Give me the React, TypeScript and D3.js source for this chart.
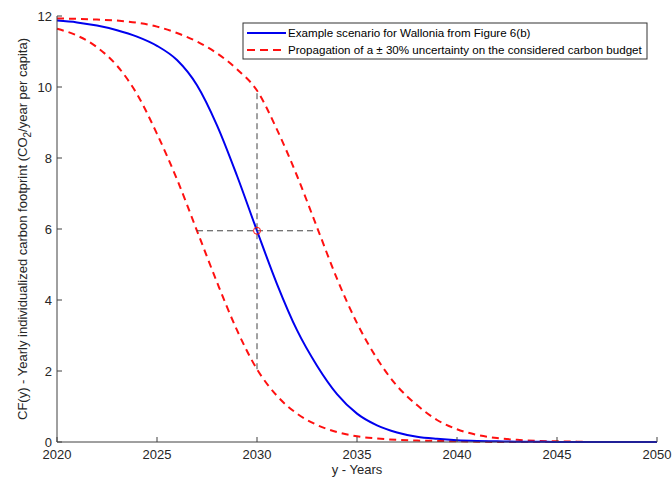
import { scaleLinear, line, curveMonotoneX } from "d3";

const years = [
  2020, 2021, 2022, 2023, 2024, 2025, 2026, 2027, 2028, 2029,
  2030, 2031, 2032, 2033, 2034, 2035, 2036, 2037, 2038, 2039,
  2040, 2041, 2042, 2043, 2044, 2045, 2046, 2047, 2048, 2049, 2050,
];
const scenario = [
  11.87, 11.82, 11.73, 11.6, 11.42, 11.16, 10.76, 10.05, 8.92, 7.5,
  5.95, 4.45, 3.15, 2.15, 1.35, 0.8, 0.47, 0.27, 0.15, 0.09,
  0.05, 0.03, 0.02, 0.01, 0.01, 0, 0, 0, 0, 0, 0,
];
const lowerBound = [
  11.64, 11.45, 11.12, 10.6, 9.8, 8.68, 7.4, 5.95, 4.5, 3.15,
  2.05, 1.3, 0.8, 0.48, 0.28, 0.16, 0.1, 0.06, 0.04, 0.03,
  0.02, 0.01, 0, 0, 0, 0, 0, 0, 0, 0, 0,
];
const upperBound = [
  11.93, 11.92, 11.9, 11.87, 11.81, 11.7, 11.52, 11.28, 10.95, 10.5,
  9.9, 8.8, 7.5, 6.05, 4.6, 3.35, 2.35, 1.58, 1.04, 0.62,
  0.36, 0.2, 0.11, 0.06, 0.03, 0.02, 0.01, 0, 0, 0, 0,
];
const xTicks = [2020, 2025, 2030, 2035, 2040, 2045, 2050];
const yTicks = [0, 2, 4, 6, 8, 10, 12];
// reference point of the example scenario and the +-30% spread
const refYear = 2030;
const refValue = 5.95;
const spreadYears = [2027, 2033];
const legendLabels = [
  "Example scenario for Wallonia from Figure 6(b)",
  "Propagation of a \u00b1 30% uncertainty on the considered carbon budget",
];

const W = 672;
const H = 481;
const margin = { top: 16, right: 15, bottom: 39, left: 57 };
const blue = "#0000ee";
const red = "#ff1010";
const axisColor = "#404040";
const font = "'Liberation Sans', Arial, Helvetica, sans-serif";

export default function App() {
  const x = scaleLinear().domain([2020, 2050]).range([margin.left, W - margin.right]);
  const y = scaleLinear().domain([0, 12]).range([H - margin.bottom, margin.top]);

  const mk = (vals: number[]) =>
    line<number>()
      .x((_, i) => x(years[i]))
      .y((d) => y(d))
      .curve(curveMonotoneX)(vals) || "";

  const x0 = x(2020);
  const x1 = x(2050);
  const yb = y(0);
  const iRef = years.indexOf(refYear);

  const lx = 243;
  const ly = 23;
  const lw = 404;
  const lh = 36;

  return (
    <svg width={W} height={H} style={{ position: "absolute", left: 0, top: 0, background: "#fff" }}>
      {/* curves */}
      <path d={mk(upperBound)} fill="none" stroke={red} strokeWidth={2} strokeDasharray="7,5" />
      <path d={mk(lowerBound)} fill="none" stroke={red} strokeWidth={2} strokeDasharray="7,5" />
      <path d={mk(scenario)} fill="none" stroke={blue} strokeWidth={2} />

      {/* spread guides */}
      <line x1={x(refYear)} x2={x(refYear)} y1={y(lowerBound[iRef])} y2={y(upperBound[iRef])}
        stroke="#444" strokeWidth={1} strokeDasharray="6,4" />
      <line x1={x(spreadYears[0])} x2={x(spreadYears[1])} y1={y(refValue)} y2={y(refValue)}
        stroke="#444" strokeWidth={1} strokeDasharray="6,4" />
      <circle cx={x(refYear)} cy={y(refValue)} r={3.5} fill="none" stroke={red} strokeWidth={1} />

      {/* axes */}
      <line x1={x0} x2={x1} y1={yb} y2={yb} stroke={axisColor} strokeWidth={1} />
      <line x1={x0} x2={x0} y1={yb} y2={y(12)} stroke={axisColor} strokeWidth={1} />
      {xTicks.map((t) => (
        <g key={t}>
          <line x1={x(t)} x2={x(t)} y1={yb} y2={yb - 5} stroke={axisColor} />
          <text x={x(t)} y={yb + 17} textAnchor="middle" fontFamily={font} fontSize={13} fill="#262626">{t}</text>
        </g>
      ))}
      {yTicks.map((t) => (
        <g key={t}>
          <line x1={x0} x2={x0 + 5} y1={y(t)} y2={y(t)} stroke={axisColor} />
          <text x={x0 - 5} y={y(t) + 4.5} textAnchor="end" fontFamily={font} fontSize={13} fill="#262626">{t}</text>
        </g>
      ))}
      <text x={(x0 + x1) / 2} y={H - 7} textAnchor="middle" fontFamily={font} fontSize={13} fill="#262626">y - Years</text>
      <text transform={`translate(27, ${(y(0) + y(12)) / 2}) rotate(-90)`} textAnchor="middle"
        fontFamily={font} fontSize={13} fill="#262626">
        CF(y) - Yearly individualized carbon footprint (CO<tspan dy={4} fontSize={10}>2</tspan>
        <tspan dy={-4}>/year per capita)</tspan>
      </text>

      {/* legend */}
      <rect x={lx} y={ly} width={lw} height={lh} fill="#fff" stroke="#333" strokeWidth={1} />
      <line x1={lx + 4} x2={lx + 43} y1={ly + 10} y2={ly + 10} stroke={blue} strokeWidth={2} />
      <line x1={lx + 4} x2={lx + 43} y1={ly + 27} y2={ly + 27} stroke={red} strokeWidth={2} strokeDasharray="8,5" />
      {legendLabels.map((l, i) => (
        <text key={l} x={lx + 45} y={ly + 14 + i * 17} fontFamily={font} fontSize={11.6} fill="#000">{l}</text>
      ))}
    </svg>
  );
}
